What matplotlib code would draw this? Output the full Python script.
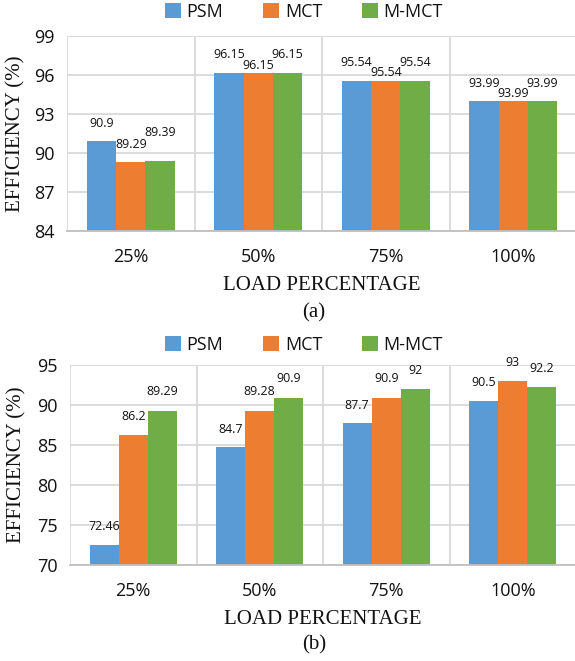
import numpy as np
import matplotlib.pyplot as plt
from matplotlib.patches import Patch

loads = ["25%", "50%", "75%", "100%"]
series = ["PSM", "MCT", "M-MCT"]

# (a) efficiency values
eff_a_psm = [90.9, 96.15, 95.54, 93.99]
eff_a_mct = [89.29, 96.15, 95.54, 93.99]
eff_a_mmct = [89.39, 96.15, 95.54, 93.99]

# (b) efficiency values
eff_b_psm = [72.46, 84.7, 87.7, 90.5]
eff_b_mct = [86.2, 89.28, 90.9, 93]
eff_b_mmct = [89.29, 90.9, 92, 92.2]

colors = ["#5B9BD5", "#ED7D31", "#70AD47"]
grid_col = "#D9D9D9"
text_col = "#111111"
sans = ["Open Sans", "DejaVu Sans"]
serif = ["Liberation Serif", "DejaVu Serif"]

plt.rcParams["font.family"] = sans

fig = plt.figure(figsize=(5.75, 6.61), dpi=100)
W, H = 575.0, 661.0


def panel(rect, data, ylim, yticks, offsets, legend_y, tag, tag_y, ylab_x, xlab_y):
    ax = fig.add_axes(rect)
    x = np.arange(len(loads))
    bw = 0.23
    for i, (vals, col) in enumerate(zip(data, colors)):
        xs = x + (i - 1) * bw
        ax.bar(xs, vals, width=bw, color=col, zorder=3)
        for xi, v, off in zip(xs, vals, offsets[i]):
            ax.annotate(f"{v:g}", (xi, v), xytext=(0, off * 0.72),
                        textcoords="offset points", ha="center", va="center",
                        fontsize=8.9, color=text_col, zorder=4)
    ax.set_xlim(-0.5, 3.5)
    ax.set_ylim(*ylim)
    ax.set_yticks(yticks)
    ax.set_xticks(x)
    ax.set_xticklabels(loads)
    ax.set_xticks(np.arange(-0.5, 4.0, 1.0), minor=True)
    ax.tick_params(axis="both", which="both", length=0, labelsize=13,
                   colors=text_col)
    ax.tick_params(axis="x", pad=12)
    ax.tick_params(axis="y", pad=9)
    ax.yaxis.grid(True, color=grid_col, lw=1.3, zorder=0)
    ax.xaxis.grid(True, which="minor", color=grid_col, lw=1.3, zorder=0)
    for s in ["top", "right", "left"]:
        ax.spines[s].set_visible(False)
    ax.spines["bottom"].set_color("#BFBFBF")
    ax.spines["bottom"].set_linewidth(1.3)
    ax.spines["bottom"].set_zorder(4)

    ax.set_ylabel("EFFICIENCY (%)", family=serif, fontsize=15, va="center",
                  color=text_col)
    ax.yaxis.set_label_coords(ylab_x, 0.5)
    ax.set_xlabel("LOAD PERCENTAGE", family=serif, fontsize=15, va="center",
                  color=text_col)
    ax.xaxis.set_label_coords(0.5, xlab_y)

    handles = [Patch(facecolor=c, edgecolor="none") for c in colors]
    leg = fig.legend(handles, series, loc="center",
                     bbox_to_anchor=(304 / W, legend_y), ncol=3, frameon=False,
                     fontsize=13, handlelength=0.9, handleheight=0.9,
                     handletextpad=0.3, columnspacing=2.2)
    for t in leg.get_texts():
        t.set_color(text_col)
    fig.text(314 / W, tag_y, tag, family=serif, fontsize=15,
             ha="center", va="center", color=text_col)
    return ax


panel([67 / W, 1 - 231 / H, 510 / W, 195 / H],
      [eff_a_psm, eff_a_mct, eff_a_mmct], (84, 99), [84, 87, 90, 93, 96, 99],
      [[18, 19, 18, 18], [18, 8, 8, 8], [28, 19, 18, 18]],
      1 - 12 / H, "(a)", 1 - 313 / H, -0.1, -0.282)

panel([70 / W, 1 - 565 / H, 506 / W, 200 / H],
      [eff_b_psm, eff_b_mct, eff_b_mmct], (70, 95), [70, 75, 80, 85, 90, 95],
      [[19, 18, 18, 18], [19, 19, 19, 19], [19, 19, 19, 19]],
      1 - 345 / H, "(b)", 1 - 645 / H, -0.106, -0.27)

fig.savefig("out.png", dpi=100)
